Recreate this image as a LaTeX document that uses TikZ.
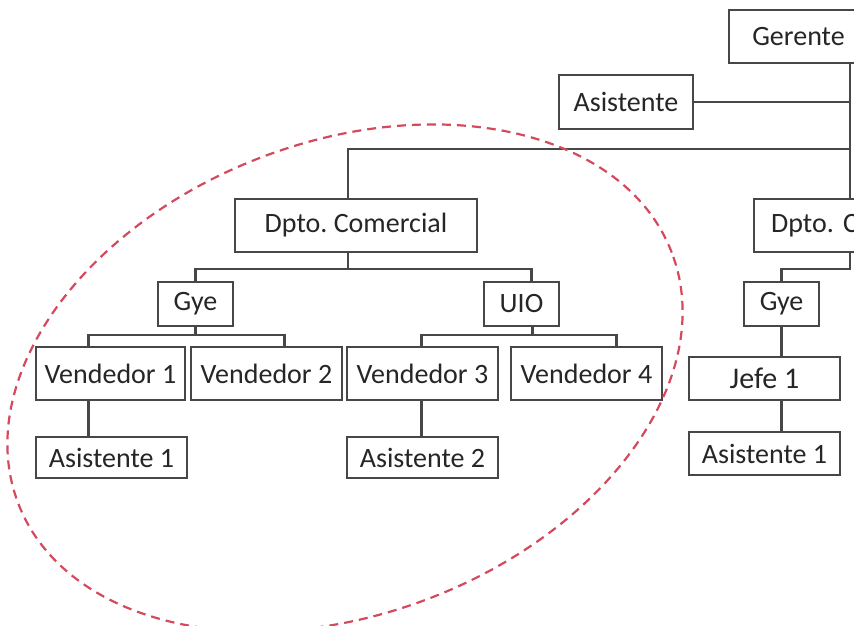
\documentclass[tikz,border=0pt]{standalone}
\usepackage{fontspec}
\setmainfont{Carlito}
\begin{document}
\begin{tikzpicture}[x=1pt,y=-1pt,
  box/.style={draw=black!72, line width=2.2pt, fill=white, inner sep=0pt,
    text=black!85, font=\fontsize{28}{32}\selectfont},
  link/.style={draw=black!72, line width=2.2pt},
  zone/.style={draw={rgb,255:red,212;green,74;blue,92}, line width=2.2pt,
    dash pattern=on 9pt off 6pt}]
\useasboundingbox (0,0) rectangle (854,626);
\clip (0,0) rectangle (854,626);

% connector levels
\coordinate (trunk) at (850,0);
\coordinate (bus) at (850,149);
\coordinate (b2) at (0,269);
\coordinate (b3) at (0,335);

% top of the chart
\node[box, minimum width=139pt, minimum height=53pt] (ger) at (798.5,36.5) {Gerente};
\node[box, minimum width=134pt, minimum height=54pt] (asi) at (626,102) {Asistente};

% departments
\node[box, minimum width=242pt, minimum height=53pt] (dc) at (356,225.5) {Dpto.\ Comercial};
\node[box, anchor=west, text width=225pt, align=left, inner xsep=17pt,
      minimum height=53pt] (dcr) at (753,225.5) {Dpto.\ C};

% commercial branch
\node[box, minimum width=75pt, minimum height=44pt] (gye) at (195.5,304) {Gye};
\node[box, minimum width=75pt, minimum height=44pt] (uio) at (521.5,304) {UIO};
\node[box, minimum width=149pt, minimum height=53pt] (v1) at (110.5,373.5) {Vendedor 1};
\node[box, minimum width=151pt, minimum height=53pt] (v2) at (266.5,373.5) {Vendedor 2};
\node[box, minimum width=151pt, minimum height=53pt] (v3) at (422.5,373.5) {Vendedor 3};
\node[box, minimum width=151pt, minimum height=53pt] (v4) at (586.5,373.5) {Vendedor 4};
\node[box, minimum width=151pt, minimum height=41pt] (a1) at (111.5,457.5) {Asistente 1};
\node[box, minimum width=151pt, minimum height=41pt] (a2) at (422.5,457.5) {Asistente 2};

% second branch
\node[box, minimum width=75pt, minimum height=44pt] (gyer) at (781.5,304) {Gye};
\node[box, minimum width=151pt, minimum height=43pt,
      font=\fontsize{30}{34}\selectfont] (jefe) at (764.5,378.5) {Jefe 1};
\node[box, minimum width=151pt, minimum height=43pt] (a1r) at (764.5,453.5) {Asistente 1};

% connectors
\draw[link] (ger.south -| trunk) -- (dcr.north -| trunk);
\draw[link] (asi.east) -- (asi.east -| trunk);
\draw[link] ([xshift=-8pt]dc.north) |- (bus);

\draw[link] ([xshift=-8pt]dc.south) -- ([xshift=-8pt]dc.south |- b2);
\draw[link] (gye.north) |- ([xshift=10pt]uio.north |- b2) -- ([xshift=10pt]uio.north);

\draw[link] (gye.south) -- (gye.south |- b3);
\draw[link] ([xshift=-22pt]v1.north) |- ([xshift=18pt]v2.north |- b3) -- ([xshift=18pt]v2.north);
\draw[link] ([xshift=11pt]uio.south) -- ([xshift=11pt]uio.south |- b3);
\draw[link] ([xshift=-1pt]v3.north) |- ([xshift=30pt]v4.north |- b3) -- ([xshift=30pt]v4.north);

\draw[link] ([xshift=-22pt]v1.south) -- ([xshift=-22pt]v1.south |- a1.north);
\draw[link] ([xshift=-1pt]v3.south) -- ([xshift=-1pt]v3.south |- a2.north);

\draw[link] (dcr.south -| trunk) -- (trunk |- b2) -| (gyer.north);
\draw[link] (gyer.south) -- (gyer.south |- jefe.north);
\draw[link] (gyer.south |- jefe.south) -- (gyer.south |- a1r.north);

% highlighted area
\draw[zone, rotate around={21:(345,378)}] (345,378) ellipse [x radius=350pt, y radius=236pt];
\end{tikzpicture}
\end{document}
